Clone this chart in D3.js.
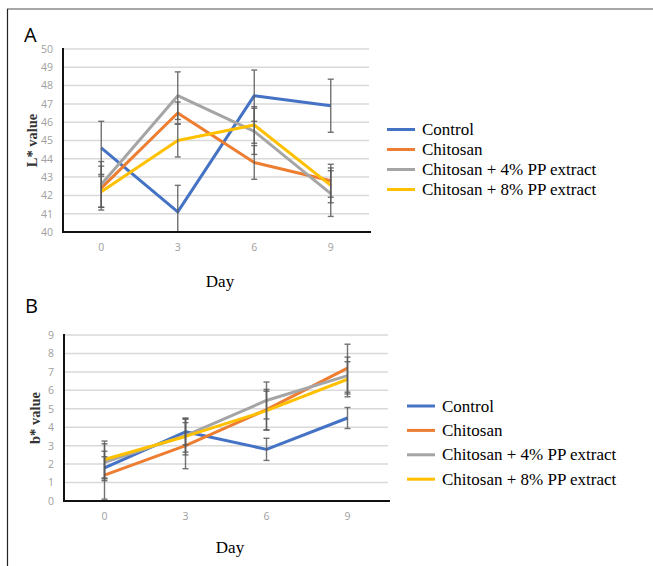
<!DOCTYPE html>
<html>
<head>
<meta charset="utf-8">
<script src="https://cdn.jsdelivr.net/npm/d3@7"></script>
<style>
body { margin: 0; background: #fff; }
svg { display: block; }
</style>
</head>
<body>
<div id="chart"></div>
<script>
// data
const days = ["0", "3", "6", "9"];
const seriesNames = ["Control", "Chitosan", "Chitosan + 4% PP extract", "Chitosan + 8% PP extract"];
const seriesColors = ["#4472C4", "#ED7D31", "#A5A5A5", "#FFC000"];

// panel A: L* value
const lControl = [44.6, 41.1, 47.45, 46.9];
const lChitosan = [42.4, 46.5, 43.8, 42.8];
const lPP4 = [42.6, 47.45, 45.5, 42.1];
const lPP8 = [42.2, 45.0, 45.85, 42.55];
const lControlErr = [1.45, 1.45, 1.4, 1.45];
const lChitosanErr = [1.2, 0.6, 0.92, 0.9];
const lPP4Err = [1.25, 1.3, 1.26, 1.25];
const lPP8Err = [0.85, 0.9, 1.0, 0.95];
const lTicks = [40, 41, 42, 43, 44, 45, 46, 47, 48, 49, 50];

// panel B: b* value
const bControl = [1.8, 3.75, 2.8, 4.5];
const bChitosan = [1.4, 3.0, 4.95, 7.2];
const bPP4 = [2.1, 3.55, 5.45, 6.8];
const bPP8 = [2.25, 3.5, 4.9, 6.6];
const bControlErr = [0.6, 0.7, 0.6, 0.57];
const bChitosanErr = [1.3, 1.25, 1.1, 1.3];
const bPP4Err = [1.0, 0.9, 1.0, 1.0];
const bPP8Err = [1.0, 1.0, 1.05, 0.95];
const bTicks = [0, 1, 2, 3, 4, 5, 6, 7, 8, 9];

let svg = d3.select("#chart")
  .append("svg")
  .attr("width", 653)
  .attr("height", 566);

// outer frame (top + left only)
svg.append("line")
  .attr("x1", 7).attr("x2", 653).attr("y1", 9).attr("y2", 9)
  .attr("stroke", "#8a8a8a").attr("stroke-width", 1.5);
svg.append("line")
  .attr("x1", 7.5).attr("x2", 7.5).attr("y1", 9).attr("y2", 566)
  .attr("stroke", "#222").attr("stroke-width", 1.2);

function drawPanel(p) {
  let x = d3.scaleBand().domain(days).range([p.left, p.right]);
  let y = d3.scaleLinear().domain([p.ticks[0], p.ticks[p.ticks.length - 1]]).range([p.bottom, p.top]);

  // panel letter
  svg.append("text")
    .attr("x", p.letterX).attr("y", p.letterY)
    .attr("font-family", "'Open Sans', sans-serif")
    .attr("font-size", "20px")
    .attr("fill", "#000")
    .text(p.letter);

  // y tick labels
  let yAxis = svg.append("g")
    .attr("transform", `translate(${p.left},0)`)
    .call(d3.axisLeft(y).tickValues(p.ticks).tickSize(0).tickPadding(10));
  yAxis.select(".domain").remove();
  yAxis.selectAll("text")
    .attr("font-family", "'Open Sans', sans-serif")
    .attr("font-size", "10.5px")
    .attr("fill", "#a0a0a0");

  // gridlines
  svg.append("g")
    .selectAll("line")
    .data(p.ticks.slice(1))
    .enter()
    .append("line")
    .attr("x1", p.left).attr("x2", p.right)
    .attr("y1", d => y(d)).attr("y2", d => y(d))
    .attr("stroke", "#d9d9d9")
    .attr("stroke-width", 1.5);

  // x axis
  let xAxis = svg.append("g")
    .attr("transform", `translate(0,${p.bottom})`)
    .call(d3.axisBottom(x).tickSize(0).tickPadding(12));
  xAxis.select(".domain").remove();
  xAxis.selectAll("text")
    .attr("font-family", "'Open Sans', sans-serif")
    .attr("font-size", "10.5px")
    .attr("fill", "#a0a0a0");

  // series lines
  let line = d3.line()
    .x((d, i) => x(days[i]) + x.bandwidth() / 2)
    .y(d => y(d));

  p.series.forEach(function(s, k) {
    svg.append("path")
      .datum(s)
      .attr("d", line)
      .attr("fill", "none")
      .attr("stroke", seriesColors[k])
      .attr("stroke-width", 3)
      .attr("stroke-linejoin", "round");
  });

  // error bars
  p.series.forEach(function(s, k) {
    let errs = p.errors[k];
    let g = svg.append("g")
      .attr("stroke", "#5a5a5a")
      .attr("stroke-width", 1.4)
      .attr("opacity", 0.85);
    s.forEach(function(v, i) {
      let cx = x(days[i]) + x.bandwidth() / 2;
      let lo = Math.max(v - errs[i], p.ticks[0]);
      let hi = v + errs[i];
      g.append("line")
        .attr("x1", cx).attr("x2", cx)
        .attr("y1", y(lo)).attr("y2", y(hi));
      g.append("line")
        .attr("x1", cx - 3).attr("x2", cx + 3)
        .attr("y1", y(hi)).attr("y2", y(hi));
      if (v - errs[i] >= p.ticks[0]) {
        g.append("line")
          .attr("x1", cx - 3).attr("x2", cx + 3)
          .attr("y1", y(lo)).attr("y2", y(lo));
      }
    });
  });

  // axis lines
  svg.append("line")
    .attr("x1", p.left).attr("x2", p.left)
    .attr("y1", p.top - 1).attr("y2", p.bottom + 1)
    .attr("stroke", "#111").attr("stroke-width", 2);
  svg.append("line")
    .attr("x1", p.left).attr("x2", p.right + 2)
    .attr("y1", p.bottom).attr("y2", p.bottom)
    .attr("stroke", "#111").attr("stroke-width", 2);

  // axis titles
  svg.append("text")
    .attr("transform", `translate(${p.yLabelX},${(p.top + p.bottom) / 2}) rotate(-90)`)
    .attr("text-anchor", "middle")
    .attr("dominant-baseline", "central")
    .attr("font-family", "'Liberation Serif', serif")
    .attr("font-size", "14.5px")
    .attr("font-weight", "bold")
    .attr("fill", "#333")
    .text(p.yLabel);

  svg.append("text")
    .attr("x", p.dayX).attr("y", p.dayY)
    .attr("text-anchor", "middle")
    .attr("font-family", "'Liberation Serif', serif")
    .attr("font-size", "17px")
    .attr("fill", "#000")
    .text("Day");

  // legend
  let legend = svg.append("g");
  seriesNames.forEach(function(name, k) {
    let ly = p.legendY + k * p.legendStep;
    legend.append("line")
      .attr("x1", p.legendX).attr("x2", p.legendX + 28)
      .attr("y1", ly).attr("y2", ly)
      .attr("stroke", seriesColors[k])
      .attr("stroke-width", 3);
    legend.append("text")
      .attr("x", p.legendX + 35).attr("y", ly)
      .attr("dominant-baseline", "central")
      .attr("font-family", "'Liberation Serif', serif")
      .attr("font-size", "17px")
      .attr("fill", "#000")
      .text(name);
  });
}

drawPanel({
  letter: "A", letterX: 24, letterY: 42,
  left: 63, right: 369, top: 49, bottom: 232,
  ticks: lTicks,
  series: [lControl, lChitosan, lPP4, lPP8],
  errors: [lControlErr, lChitosanErr, lPP4Err, lPP8Err],
  yLabel: "L* value", yLabelX: 32,
  dayX: 220, dayY: 287,
  legendX: 387, legendY: 129.5, legendStep: 20
});

drawPanel({
  letter: "B", letterX: 25, letterY: 313,
  left: 64, right: 388, top: 335, bottom: 501,
  ticks: bTicks,
  series: [bControl, bChitosan, bPP4, bPP8],
  errors: [bControlErr, bChitosanErr, bPP4Err, bPP8Err],
  yLabel: "b* value", yLabelX: 35,
  dayX: 230, dayY: 553,
  legendX: 407, legendY: 406, legendStep: 24.4
});
</script>
</body>
</html>
